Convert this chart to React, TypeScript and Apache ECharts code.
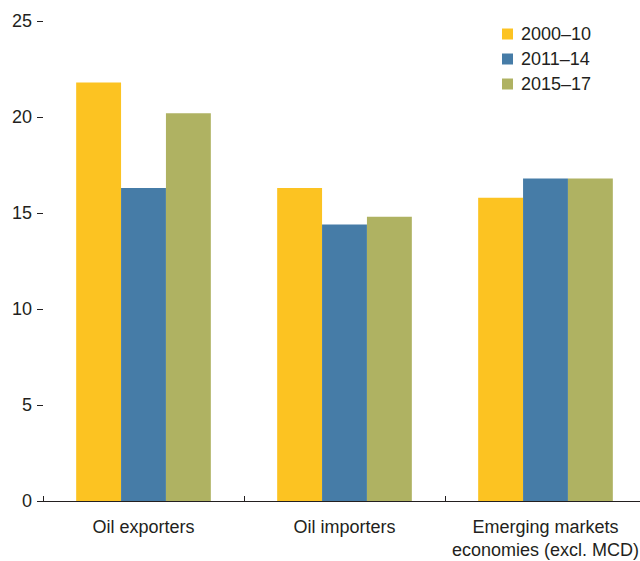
import React, { useEffect, useRef } from "react";
import * as echarts from "echarts";

const categories = ["Oil exporters", "Oil importers", "Emerging markets\neconomies (excl. MCD)"];
const seriesNames = ["2000–10", "2011–14", "2015–17"];
const values2000_10 = [21.8, 16.3, 15.8];
const values2011_14 = [16.3, 14.4, 16.8];
const values2015_17 = [20.2, 14.8, 16.8];
const colors = ["#FCC322", "#467CA7", "#AFB262"];
const yTicks = { min: 0, max: 25, interval: 5 };

const FONT = "'Liberation Sans', Arial, sans-serif";

export default function App() {
  const ref = useRef<HTMLDivElement>(null);
  useEffect(() => {
    if (!ref.current) return;
    const chart = echarts.init(ref.current, null, { renderer: "svg" });
    const data = [values2000_10, values2011_14, values2015_17];
    chart.setOption({
      animation: false,
      backgroundColor: "#ffffff",
      textStyle: { fontFamily: FONT },
      grid: { left: 43, right: 0, top: 21, bottom: 59, containLabel: false },
      legend: {
        orient: "vertical",
        left: 502,
        top: 25,
        padding: 0,
        itemWidth: 11,
        itemHeight: 11,
        itemGap: 7,
        icon: "rect",
        textStyle: { fontFamily: FONT, fontSize: 18, color: "#231f20", padding: [0, 0, 0, 3] },
        data: seriesNames,
      },
      xAxis: {
        type: "category",
        data: categories,
        axisLine: { show: true, lineStyle: { color: "#231f20", width: 1 } },
        axisTick: { show: true, inside: true, length: 5, lineStyle: { color: "#231f20" } },
        axisLabel: { interval: 0, fontFamily: FONT, fontSize: 18, color: "#231f20", margin: 14, lineHeight: 23 },
      },
      yAxis: {
        type: "value",
        min: yTicks.min,
        max: yTicks.max,
        interval: yTicks.interval,
        axisLine: { show: false },
        axisTick: { show: true, length: 6, lineStyle: { color: "#231f20" } },
        splitLine: { show: false },
        axisLabel: { fontFamily: FONT, fontSize: 18, color: "#231f20", margin: 11 },
      },
      series: seriesNames.map((name, i) => ({
        name,
        type: "bar",
        data: data[i],
        barGap: "0%",
        barCategoryGap: "33%",
        itemStyle: { color: colors[i] },
      })),
    });
    return () => chart.dispose();
  }, []);
  return (
    <div style={{ position: "fixed", left: 0, top: 0, width: 640, height: 561, overflow: "hidden", background: "#fff" }}>
      <div ref={ref} style={{ position: "absolute", left: 0, top: 0, width: 646, height: 561 }} />
    </div>
  );
}
